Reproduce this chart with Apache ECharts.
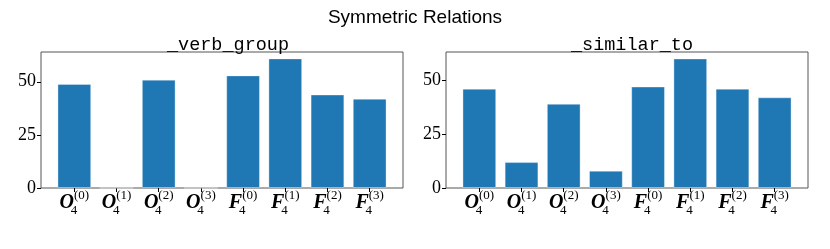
<!DOCTYPE html>
<html><head><meta charset="utf-8">
<script src="https://cdn.jsdelivr.net/npm/echarts@6/dist/echarts.min.js"></script>
<style>html,body{margin:0;padding:0;background:#fff}#c{width:830px;height:249px}</style>
</head><body><div id="c"></div>
<script>
const categories = [['O','0'],['O','1'],['O','2'],['O','3'],['F','0'],['F','1'],['F','2'],['F','3']];
const verbGroup = [49, 0, 51, 0, 53, 61, 44, 42];
const similarTo = [46, 12, 39, 8, 47, 60, 46, 42];
const yTicks = [0, 25, 50];
const panelTitles = ['_verb_group', '_similar_to'];
const suptitle = 'Symmetric Relations';

const catNames = categories.map(c => c[0] + '|' + c[1]);
const richLabel = {
  m: {fontFamily: 'Liberation Serif', fontWeight: 'bold', fontStyle: 'italic', fontSize: 20, color: '#000', verticalAlign: 'middle', lineHeight: 28},
  sub: {fontFamily: 'Liberation Serif', fontSize: 13, color: '#000', verticalAlign: 'bottom', width: 0, lineHeight: 28},
  sup: {fontFamily: 'Liberation Serif', fontSize: 13, color: '#000', verticalAlign: 'top', lineHeight: 28}
};
function fmt(v) {
  const p = v.split('|');
  return '{m|' + p[0] + '}{sub|4}{sup|(' + p[1] + ')}';
}

const frames = [{left: 41, width: 362}, {left: 446, width: 362}];
const ymax = [64, 63];
const grids = [], xAxes = [], yAxes = [], series = [];
const dataSets = [verbGroup, similarTo];
frames.forEach((f, i) => {
  const inset = f.width * 0.29 / 8.58;
  grids.push({left: f.left, width: f.width, top: 52, height: 136, show: true, borderColor: '#555', borderWidth: 1, backgroundColor: 'transparent'});
  grids.push({left: f.left + inset, width: f.width - 2 * inset, top: 52, height: 136});
  xAxes.push({gridIndex: 2*i, type: 'value', min: 0, max: 1, show: false});
  yAxes.push({gridIndex: 2*i, type: 'value', min: 0, max: ymax[i],
    axisLine: {show: false}, splitLine: {show: false},
    axisTick: {show: true, length: 4, customValues: yTicks, lineStyle: {color: '#000'}},
    axisLabel: {fontFamily: 'Liberation Serif', fontSize: 18, color: '#000', margin: 5, customValues: yTicks}});
  xAxes.push({gridIndex: 2*i+1, type: 'category', data: catNames, boundaryGap: true,
    axisLine: {show: false}, splitLine: {show: false},
    axisTick: {show: true, alignWithLabel: true, length: 4, lineStyle: {color: '#000'}},
    axisLabel: {interval: 0, margin: 1, formatter: fmt, rich: richLabel}});
  yAxes.push({gridIndex: 2*i+1, type: 'value', min: 0, max: ymax[i], show: false});
  series.push({type: 'bar', xAxisIndex: 2*i+1, yAxisIndex: 2*i+1, data: dataSets[i], barWidth: '80%',
    itemStyle: {color: '#1f77b4', borderColor: 'rgba(255,255,255,0.35)', borderWidth: 1}, silent: true, animation: false});
});

const chart = echarts.init(document.getElementById('c'), null, {renderer: 'canvas'});
chart.setOption({
  animation: false,
  title: [
    {text: suptitle, left: 'center', top: 3, textStyle: {fontFamily: 'Liberation Sans', fontWeight: 'normal', fontSize: 19, color: '#000'}},
    {text: panelTitles[0], left: 223, textAlign: 'center', top: 31, textStyle: {fontFamily: 'Liberation Mono', fontWeight: 'normal', fontSize: 18.5, color: '#000'}},
    {text: panelTitles[1], left: 627, textAlign: 'center', top: 31, textStyle: {fontFamily: 'Liberation Mono', fontWeight: 'normal', fontSize: 18.5, color: '#000'}}
  ],
  grid: grids, xAxis: xAxes, yAxis: yAxes, series: series
});
</script></body></html>
